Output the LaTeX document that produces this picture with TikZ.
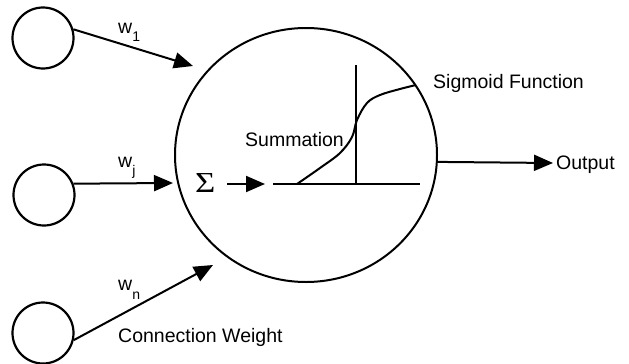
\documentclass[tikz,border=0pt]{standalone}
\usepackage{fontspec}
\setmainfont{Liberation Sans}
\newfontfamily\sigfont[FakeStretch=1.2]{Liberation Serif}
\usetikzlibrary{arrows.meta,shapes.geometric}
\begin{document}
\begin{tikzpicture}[x=1pt,y=-1pt,
  lbl/.style={inner sep=0pt,anchor=base west,font=\fontsize{19.5}{22}\selectfont},
  inputc/.style={draw,circle,line width=2.2pt,minimum size=61pt,inner sep=0pt},
  arr/.style={line width=2pt,-{Triangle[length=19pt,width=16pt]}},
  ax/.style={line width=2.5pt}]
\useasboundingbox (0,0) rectangle (629,364);
% input circles
\node[inputc] (c1) at (43,38) {};
\node[inputc] (c2) at (44,195) {};
\node[inputc] (c3) at (43,333) {};
% neuron
\node[draw,ellipse,line width=2pt,minimum width=262pt,minimum height=254pt,inner sep=0pt] (big) at (306,155) {};
% arrow tips
\coordinate (t1) at (193,66);
\coordinate (t2) at (173,183);
\coordinate (t3) at (213,265);
\draw[arr] (c1.16) -- (t1);
\draw[arr] (c2.21) -- (t2);
\draw[arr] (c3.-13) -- (t3);
% weights
\node[lbl] (w1) at (118,33) {w\raisebox{-9pt}{\fontsize{14}{14}\selectfont 1}};
\node[lbl] (wj) at (118,167) {w\raisebox{-8pt}{\fontsize{14}{14}\selectfont j}};
\node[lbl] (wn) at (118,290) {w\raisebox{-9pt}{\fontsize{14}{14}\selectfont n}};
\node[lbl] (cw) at (118,342) {Connection Weight};
% sigma
\node[inner sep=0pt,anchor=base west,font=\sigfont\fontsize{29}{29}\selectfont] (sigma) at (195,192.5) {Σ};
\coordinate (s0) at (227,184);
\coordinate (s1) at (265,184);
\draw[arr] (s0) -- (s1);
% axes
\coordinate (h0) at (273,184);
\coordinate (h1) at (420,184);
\coordinate (v0) at (356,65);
\coordinate (v1) at (356,184);
\draw[ax] (h0) -- (h1);
\draw[ax] (v0) -- (v1);
% sigmoid
\draw[line width=2pt] plot[smooth,tension=0.6] coordinates {(297,184) (320,168) (340,153) (352,137) (357,120) (367,103) (380,95) (400,89) (416,85)};
\node[lbl] (summ) at (245,146) {Summation};
\node[lbl] (sig) at (433,88) {Sigmoid Function};
% output
\coordinate (otip) at (553,163);
\draw[arr] (big.-3.5) -- (otip);
\node[lbl] (out) at (556,169) {Output};
\end{tikzpicture}
\end{document}
